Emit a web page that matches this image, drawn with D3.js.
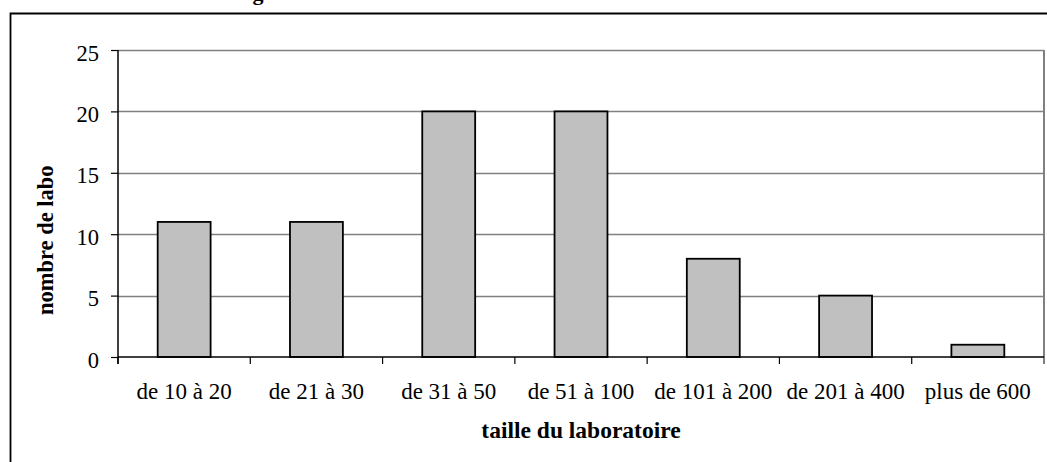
<!DOCTYPE html>
<html>
<head>
<meta charset="utf-8">
<script src="https://cdn.jsdelivr.net/npm/d3@7"></script>
<style>
  body { margin: 0; background: #fff; }
  svg { display: block; }
  text { font-family: "Liberation Serif", "Times New Roman", serif; }
</style>
</head>
<body>
<div id="chart-area"></div>
<script>
var categories = ["de 10 à 20", "de 21 à 30", "de 31 à 50", "de 51 à 100", "de 101 à 200", "de 201 à 400", "plus de 600"];
var counts = [11, 11, 20, 20, 8, 5, 1];
var yTicks = [0, 5, 10, 15, 20, 25];

var width = 1047, height = 462;
var plot = { left: 118, right: 1044, top: 50, bottom: 357 };

var svg = d3.select("#chart-area")
  .append("svg")
  .attr("width", width)
  .attr("height", height);

// outer frame (runs off the right and bottom edges)
svg.append("path")
  .attr("d", "M10.5," + (height + 5) + "V13.5H" + (width + 5))
  .attr("fill", "none")
  .attr("stroke", "#000")
  .attr("stroke-width", 1.8);

// title, mostly above the visible area (as in the reference)
svg.append("text")
  .attr("x", 233)
  .attr("y", 0)
  .attr("font-size", 22)
  .attr("font-weight", "bold")
  .text("Figure");

// Create x scale (band scale)
var x = d3.scaleBand()
  .domain(categories)
  .range([plot.left, plot.right])
  .paddingInner(0.6)
  .paddingOuter(0.3);

// Create y scale (linear scale)
var y = d3.scaleLinear()
  .domain([0, 25])
  .range([plot.bottom, plot.top]);

// gridlines
svg.append("g")
  .selectAll("line")
  .data(yTicks.filter(d => d > 0))
  .enter()
  .append("line")
  .attr("x1", plot.left)
  .attr("x2", plot.right)
  .attr("y1", d => Math.round(y(d)) + 0.5)
  .attr("y2", d => Math.round(y(d)) + 0.5)
  .attr("stroke", "#808080")
  .attr("stroke-width", 1.5);

// right border of plot area
svg.append("line")
  .attr("x1", plot.right)
  .attr("x2", plot.right)
  .attr("y1", plot.top)
  .attr("y2", plot.bottom + 7)
  .attr("stroke", "#808080")
  .attr("stroke-width", 2);

// bars
svg.append("g")
  .selectAll("rect")
  .data(counts)
  .enter()
  .append("rect")
  .attr("x", (d, i) => x(categories[i]))
  .attr("y", d => y(d))
  .attr("width", x.bandwidth())
  .attr("height", d => y(0) - y(d))
  .attr("fill", "#c0c0c0")
  .attr("stroke", "#000")
  .attr("stroke-width", 1.8);

// y axis
var yAxis = svg.append("g")
  .attr("transform", "translate(" + plot.left + ",0)")
  .call(d3.axisLeft(y).tickValues(yTicks).tickSize(7).tickSizeOuter(0).tickPadding(12));
yAxis.select(".domain").attr("stroke", "#000").attr("stroke-width", 1.5)
  .attr("d", "M0," + plot.top + "V" + (plot.bottom + 7));
yAxis.selectAll(".tick line").attr("stroke", "#000").attr("stroke-width", 1.2);
yAxis.selectAll(".tick text")
  .attr("font-size", 22.5)
  .attr("fill", "#000")
  .attr("dy", "0.45em")
  .style("font-family", "Liberation Serif, serif");

// x axis with ticks on the band boundaries
var bounds = d3.scaleLinear().domain([0, categories.length]).range([plot.left, plot.right]);
var xAxis = svg.append("g");
xAxis.append("line")
  .attr("x1", plot.left)
  .attr("x2", plot.right)
  .attr("y1", plot.bottom)
  .attr("y2", plot.bottom)
  .attr("stroke", "#000")
  .attr("stroke-width", 1.5);
xAxis.selectAll(".xtick")
  .data(d3.range(categories.length))
  .enter()
  .append("line")
  .attr("x1", d => bounds(d))
  .attr("x2", d => bounds(d))
  .attr("y1", plot.bottom)
  .attr("y2", plot.bottom + 7)
  .attr("stroke", "#000")
  .attr("stroke-width", 1.2);
xAxis.selectAll(".xlabel")
  .data(categories)
  .enter()
  .append("text")
  .attr("x", d => x(d) + x.bandwidth() / 2)
  .attr("y", 399)
  .attr("text-anchor", "middle")
  .attr("font-size", 23)
  .text(d => d);

// axis titles
svg.append("text")
  .attr("x", 581)
  .attr("y", 438)
  .attr("text-anchor", "middle")
  .attr("font-size", 23.5)
  .attr("font-weight", "bold")
  .text("taille du laboratoire");

svg.append("text")
  .attr("transform", "translate(53,315) rotate(-90)")
  .attr("text-anchor", "start")
  .attr("font-size", 22.5)
  .attr("font-weight", "bold")
  .text("nombre de labo");
</script>
</body>
</html>
